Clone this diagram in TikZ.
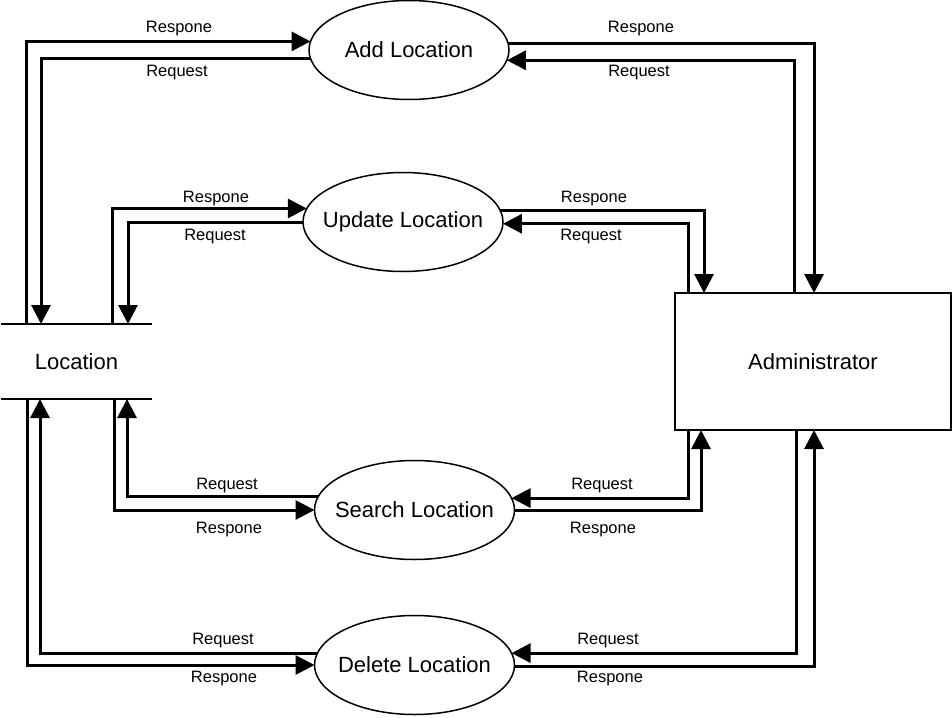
\documentclass[tikz,border=0pt]{standalone}
\usepackage{fontspec}
\setmainfont{Liberation Sans}
\usetikzlibrary{arrows.meta,shapes.geometric,calc}
\begin{document}
\begin{tikzpicture}[x=1pt,y=-1pt,
  proc/.style={ellipse,draw,line width=1.5pt,minimum width=200pt,minimum height=99pt,inner sep=0pt,outer sep=0pt,font=\fontsize{22}{26}\selectfont},
  flow/.style={line width=3pt,-{Triangle[length=19pt,width=19pt]}},
  lbl/.style={font=\fontsize{16.5}{19}\selectfont,anchor=base,inner sep=0pt}]
\useasboundingbox (0,0) rectangle (952,717);

\node[proc] (add)  at (409,50)    {\makebox[0pt]{Add Location}};
\node[proc] (upd)  at (403,222)   {\makebox[0pt]{Update Location}};
\node[proc] (srch) at (414.5,510) {\makebox[0pt]{Search Location}};
\node[proc] (del)  at (414.5,665) {\makebox[0pt]{Delete Location}};

\node[minimum width=151pt,minimum height=75pt,inner sep=0pt,outer sep=0pt,font=\fontsize{22}{26}\selectfont] (loc) at (76.5,361.5) {Location};
\draw[line width=1.5pt] (loc.north west) -- (loc.north east) (loc.south west) -- (loc.south east);

\node[draw,line width=1.5pt,minimum width=276pt,minimum height=137pt,inner sep=0pt,outer sep=0pt,font=\fontsize{22}{26}\selectfont] (admin) at (813,361.5) {Administrator};

% left side
\draw[flow] ($(loc.north west)+(25,0)$) |- (add.175.36);
\draw[flow] (add.185.83) -| ($(loc.north west)+(40,0)$);
\draw[flow] ($(loc.north west)+(111,0)$) |- (upd.172.95);
\draw[flow] (upd.180.57) -| ($(loc.north west)+(127,0)$);
\draw[flow] (srch.172.33) -| ($(loc.south west)+(126,0)$);
\draw[flow] ($(loc.south west)+(113,0)$) |- (srch.180);
\draw[flow] (del.173.57) -| ($(loc.south west)+(39,0)$);
\draw[flow] ($(loc.south west)+(26,0)$) |- (del.180.57);

% right side
\draw[flow] (add.4.64) -| ($(admin.north west)+(139,0)$);
\draw[flow] ($(admin.north west)+(119,0)$) |- (add.354.17);
\draw[flow] (upd.7.05) -| ($(admin.north west)+(29,0)$);
\draw[flow] ($(admin.north west)+(13,0)$) |- (upd.359.43);
\draw[flow] ($(admin.south west)+(13,0)$) |- (srch.7.67);
\draw[flow] (srch.0.57) -| ($(admin.south west)+(26,0)$);
\draw[flow] ($(admin.south west)+(121,0)$) |- (del.7.05);
\draw[flow] (del.359.43) -| ($(admin.south west)+(139,0)$);

% labels
\node[lbl] (t1) at (179,33) {Respone};
\node[lbl] (t2) at (177,77) {Request};
\node[lbl] (t3) at (216,202) {Respone};
\node[lbl] (t4) at (215,240) {Request};
\node[lbl] (t5) at (641,33) {Respone};
\node[lbl] (t6) at (639,77) {Request};
\node[lbl] (t7) at (594,202) {Respone};
\node[lbl] (t8) at (591,240) {Request};
\node[lbl] (t9) at (227,489) {Request};
\node[lbl] (t10) at (229,533) {Respone};
\node[lbl] (t11) at (223,644) {Request};
\node[lbl] (t12) at (224,682) {Respone};
\node[lbl] (t13) at (602,489) {Request};
\node[lbl] (t14) at (603,533) {Respone};
\node[lbl] (t15) at (608,644) {Request};
\node[lbl] (t16) at (610,682) {Respone};
\end{tikzpicture}
\end{document}
